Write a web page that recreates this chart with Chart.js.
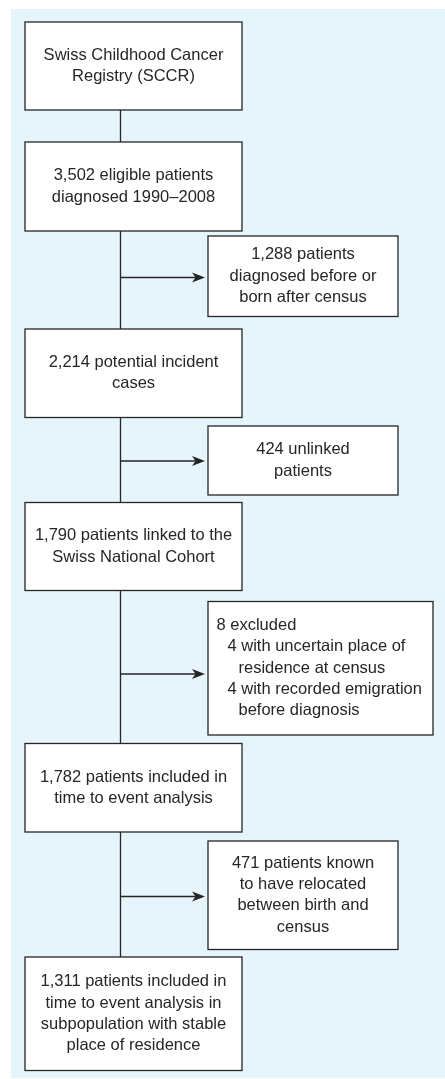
<!DOCTYPE html>
<html>
<head>
<meta charset="utf-8">
<script src="https://cdn.jsdelivr.net/npm/chart.js@4"></script>
<style>
  html, body { margin: 0; padding: 0; background: #fff; }
  canvas { display: block; }
</style>
</head>
<body>
<canvas id="flow" width="445" height="1079"></canvas>
<script>
// flow steps (main column) and the exclusions branching off between them
const mainSteps = [
  ['Swiss Childhood Cancer', 'Registry (SCCR)'],
  ['3,502 eligible patients', 'diagnosed 1990\u20132008'],
  ['2,214 potential incident', 'cases'],
  ['1,790 patients linked to the', 'Swiss National Cohort'],
  ['1,782 patients included in', 'time to event analysis'],
  ['1,311 patients included in', 'time to event analysis in', 'subpopulation with stable', 'place of residence']
];
const exclusions = [
  ['1,288 patients', 'diagnosed before or', 'born after census'],
  ['424 unlinked', 'patients'],
  ['8 excluded', '4 with uncertain place of', 'residence at census', '4 with recorded emigration', 'before diagnosis'],
  ['471 patients known', 'to have relocated', 'between birth and', 'census']
];
// indent level per line for the list-style exclusion box (null = centred)
const exclusionIndent = [null, null, [0, 1, 2, 1, 2], null];

// layout in page pixels
const mainLeft = 25, mainRight = 242, spineX = 120.5;
const mainTop = [22, 142, 329, 502.5, 743.5, 957];
const mainBottom = [110, 231, 417.5, 590.5, 832, 1070.5];
const sideLeft = 208;
const sideRight = [398, 398, 433, 398];
const sideTop = [236, 426, 601.5, 841];
const sideBottom = [316.5, 495, 735, 949.5];
const arrowY = [277.5, 461, 674, 896.5];

const ink = '#262626';
const lineH = 21.3;
const font = '16.5px "Liberation Sans", Arial, sans-serif';

const datasets = [];
for (let i = 0; i < mainSteps.length - 1; i++) {
  datasets.push({
    type: 'line',
    data: [{ x: spineX, y: mainBottom[i] }, { x: spineX, y: mainTop[i + 1] }],
    borderColor: ink, borderWidth: 1.3, pointRadius: 0, fill: false
  });
  datasets.push({
    type: 'line',
    data: [{ x: spineX, y: arrowY[i] }, { x: sideLeft - 6, y: arrowY[i] }],
    borderColor: ink, borderWidth: 1.3, pointRadius: 0, fill: false
  });
}

function drawBox(ctx, sx, sy, x0, y0, x1, y1) {
  const l = sx.getPixelForValue(x0), r = sx.getPixelForValue(x1);
  const t = sy.getPixelForValue(y0), b = sy.getPixelForValue(y1);
  ctx.fillStyle = '#fff';
  ctx.fillRect(l, t, r - l, b - t);
  ctx.strokeStyle = ink;
  ctx.lineWidth = 1.3;
  ctx.strokeRect(l, t, r - l, b - t);
}

function drawLines(ctx, sx, sy, lines, cx, cy, indent, leftX) {
  ctx.fillStyle = ink;
  ctx.font = font;
  ctx.textBaseline = 'middle';
  const first = cy - (lines.length - 1) * lineH / 2;
  lines.forEach((s, k) => {
    const y = sy.getPixelForValue(first + k * lineH);
    if (indent) {
      ctx.textAlign = 'left';
      ctx.fillText(s, sx.getPixelForValue(leftX + indent[k] * 11), y);
    } else {
      ctx.textAlign = 'center';
      ctx.fillText(s, sx.getPixelForValue(cx), y);
    }
  });
}

const flowPlugin = {
  id: 'flow',
  beforeDatasetsDraw(chart) {
    const { ctx, scales: { x, y } } = chart;
    ctx.save();
    ctx.fillStyle = '#e6f4fc';
    const l = x.getPixelForValue(11), t = y.getPixelForValue(9);
    ctx.fillRect(l, t, x.getPixelForValue(445) - l, y.getPixelForValue(1078) - t);
    ctx.restore();
  },
  afterDatasetsDraw(chart) {
    const { ctx, scales: { x, y } } = chart;
    ctx.save();
    mainSteps.forEach((lines, i) => {
      drawBox(ctx, x, y, mainLeft, mainTop[i], mainRight, mainBottom[i]);
      drawLines(ctx, x, y, lines, (mainLeft + mainRight) / 2, (mainTop[i] + mainBottom[i]) / 2);
    });
    exclusions.forEach((lines, i) => {
      drawBox(ctx, x, y, sideLeft, sideTop[i], sideRight[i], sideBottom[i]);
      drawLines(ctx, x, y, lines, (sideLeft + sideRight[i]) / 2, (sideTop[i] + sideBottom[i]) / 2,
        exclusionIndent[i], sideLeft + 8.5);
      // arrow head
      const tipX = x.getPixelForValue(sideLeft - 3), py = y.getPixelForValue(arrowY[i]);
      ctx.fillStyle = ink;
      ctx.beginPath();
      ctx.moveTo(tipX, py);
      ctx.lineTo(tipX - 13, py - 5);
      ctx.lineTo(tipX - 9.5, py);
      ctx.lineTo(tipX - 13, py + 5);
      ctx.closePath();
      ctx.fill();
    });
    ctx.restore();
  }
};

new Chart(document.getElementById('flow').getContext('2d'), {
  type: 'scatter',
  data: { datasets },
  options: {
    responsive: false,
    animation: false,
    layout: { padding: 0 },
    plugins: { legend: { display: false }, tooltip: { enabled: false } },
    scales: {
      x: { type: 'linear', min: 0, max: 445, display: false },
      y: { type: 'linear', min: 0, max: 1079, reverse: true, display: false }
    }
  },
  plugins: [flowPlugin]
});
</script>
</body>
</html>
